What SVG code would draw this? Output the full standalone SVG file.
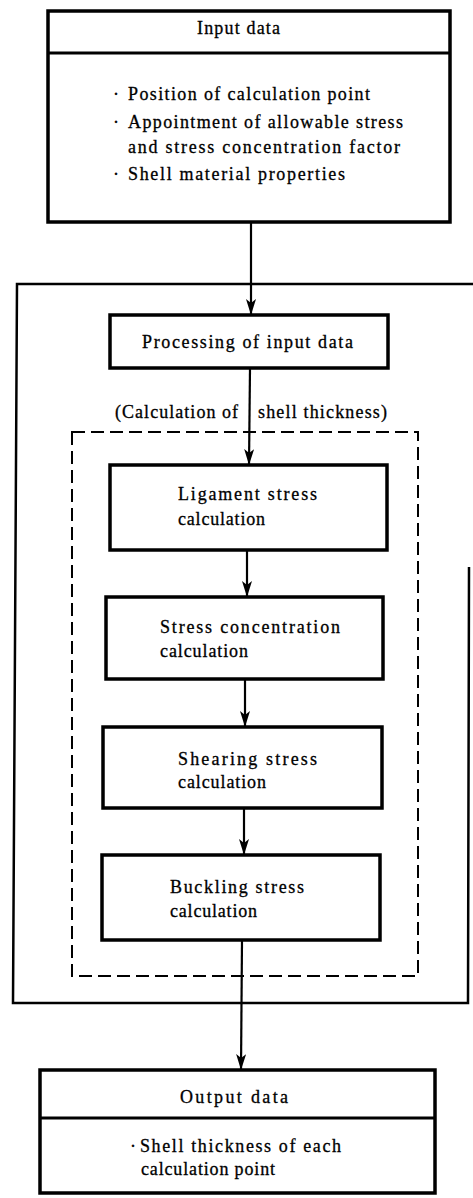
<svg xmlns="http://www.w3.org/2000/svg" width="473" height="1198" viewBox="0 0 473 1198">
<style>
.box{fill:#fff;stroke:#000;stroke-width:3.5}
.div{stroke:#000;stroke-width:3}
.t{font-family:"Liberation Serif","Times New Roman",serif;font-size:18px;fill:#000;stroke:#000;stroke-width:0.3}
.con{stroke:#000;stroke-width:2.2;fill:none;marker-end:url(#ah)}
.frame{fill:none;stroke:#000;stroke-width:2.5}
.dash{fill:none;stroke:#000;stroke-width:2;stroke-dasharray:13 6}
</style>
<defs>
<marker id="ah" viewBox="0 0 16 10" refX="16" refY="5" markerWidth="16" markerHeight="10" markerUnits="userSpaceOnUse" orient="auto">
<path d="M0,0 L16,5 L0,10 L4,5 Z" fill="#000"/>
</marker>
</defs>
<rect width="473" height="1198" fill="#fff"/>
<g id="frames">
<path class="frame" d="M473,284 L17,284 L13,1003 L468,1003 L469,567"/>
<rect id="calc-group" class="dash" x="72" y="432" width="346" height="544"/>
<text class="t" x="115" y="418" textLength="123" lengthAdjust="spacing">(Calculation of</text>
<text class="t" x="258" y="418" textLength="129" lengthAdjust="spacing">shell thickness)</text>
</g>
<g id="connectors">
<line class="con" x1="251" y1="223" x2="251" y2="315"/>
<line class="con" x1="250" y1="368" x2="249" y2="465"/>
<line class="con" x1="247" y1="550" x2="247" y2="597"/>
<line class="con" x1="245" y1="679" x2="245" y2="727"/>
<line class="con" x1="244" y1="808" x2="244" y2="855"/>
<line class="con" x1="242" y1="940" x2="241" y2="1070"/>
</g>
<g id="input-data">
<rect class="box" x="48" y="11" width="402" height="211"/>
<line class="div" x1="48" y1="53" x2="450" y2="53"/>
<text class="t" x="197" y="34" textLength="83" lengthAdjust="spacing">Input data</text>
<text class="t" x="113" y="100">·</text>
<text class="t" x="128" y="100" textLength="242" lengthAdjust="spacing">Position of calculation point</text>
<text class="t" x="113" y="128">·</text>
<text class="t" x="128" y="128" textLength="275" lengthAdjust="spacing">Appointment of allowable stress</text>
<text class="t" x="128" y="153" textLength="272" lengthAdjust="spacing">and stress concentration factor</text>
<text class="t" x="113" y="180">·</text>
<text class="t" x="128" y="180" textLength="217" lengthAdjust="spacing">Shell material properties</text>
</g>
<g id="processing">
<rect class="box" x="110" y="315" width="278" height="53"/>
<text class="t" x="142" y="348" textLength="211" lengthAdjust="spacing">Processing of input data</text>
</g>
<g id="ligament">
<rect class="box" x="110" y="465" width="277" height="85"/>
<text class="t" x="178" y="500" textLength="139" lengthAdjust="spacing">Ligament stress</text>
<text class="t" x="178" y="525" textLength="87" lengthAdjust="spacing">calculation</text>
</g>
<g id="stress-concentration">
<rect class="box" x="106" y="597" width="277" height="82"/>
<text class="t" x="160" y="633" textLength="180" lengthAdjust="spacing">Stress concentration</text>
<text class="t" x="160" y="657" textLength="88" lengthAdjust="spacing">calculation</text>
</g>
<g id="shearing">
<rect class="box" x="103" y="727" width="279" height="81"/>
<text class="t" x="178" y="765" textLength="139" lengthAdjust="spacing">Shearing stress</text>
<text class="t" x="178" y="788" textLength="88" lengthAdjust="spacing">calculation</text>
</g>
<g id="buckling">
<rect class="box" x="102" y="855" width="278" height="85"/>
<text class="t" x="170" y="893" textLength="134" lengthAdjust="spacing">Buckling stress</text>
<text class="t" x="170" y="917" textLength="87" lengthAdjust="spacing">calculation</text>
</g>
<g id="output-data">
<rect class="box" x="40" y="1070" width="395" height="123"/>
<line class="div" x1="40" y1="1118" x2="435" y2="1118"/>
<text class="t" x="180" y="1103" textLength="108" lengthAdjust="spacing">Output data</text>
<text class="t" x="130" y="1152">·</text>
<text class="t" x="140" y="1152" textLength="201" lengthAdjust="spacing">Shell thickness of each</text>
<text class="t" x="141" y="1175" textLength="134" lengthAdjust="spacing">calculation point</text>
</g>
</svg>
